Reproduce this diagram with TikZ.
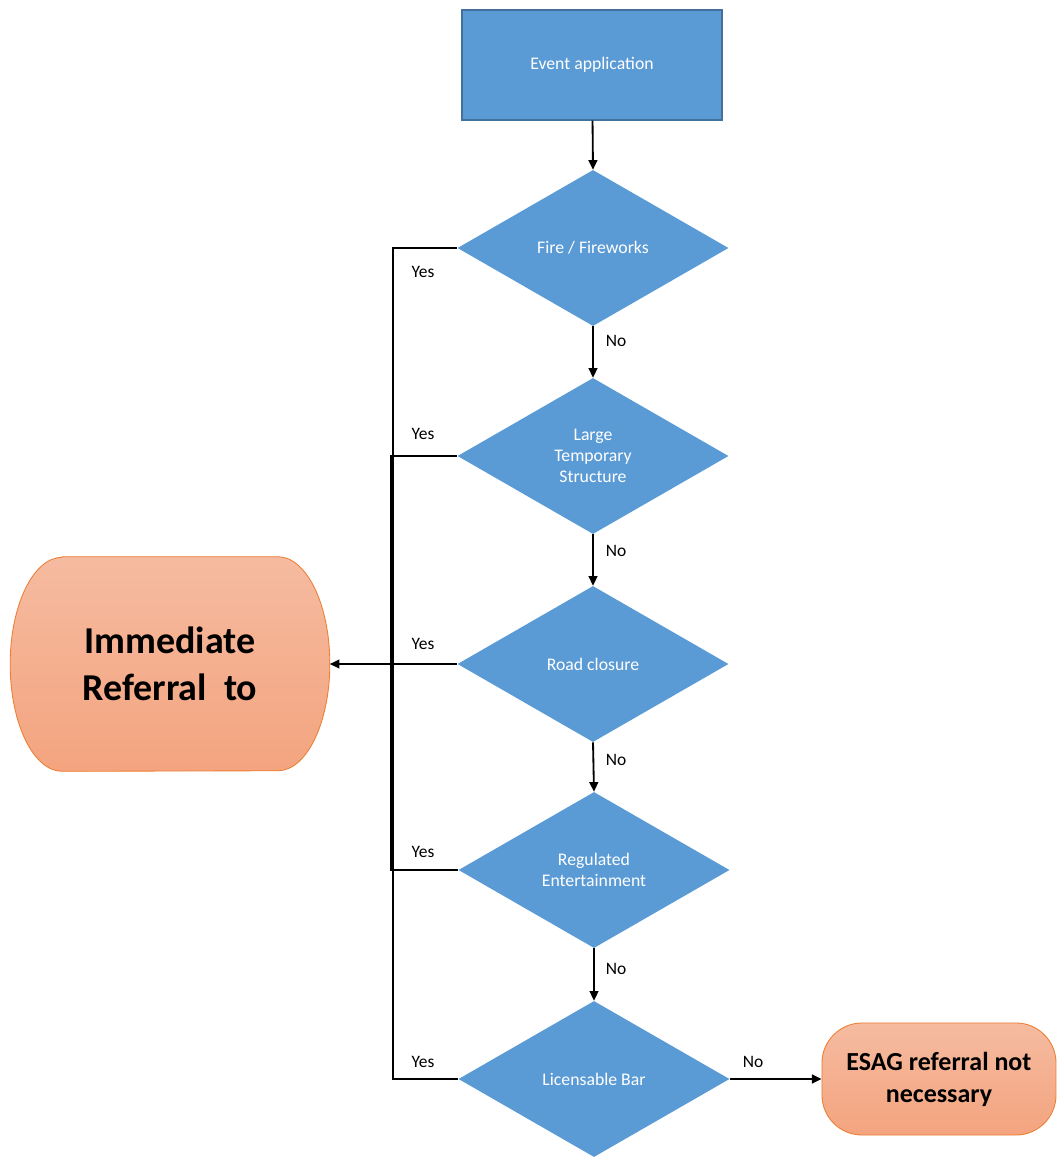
\documentclass[tikz,border=0pt]{standalone}
\usepackage{fontspec}
\setmainfont{Carlito}
\usetikzlibrary{shapes.geometric,arrows.meta}

\definecolor{flowblue}{HTML}{5B9BD5}
\definecolor{flowblueline}{HTML}{41719C}
\definecolor{salmontop}{HTML}{F5BBA0}
\definecolor{salmonbot}{HTML}{F4A47F}
\definecolor{salmonline}{HTML}{ED7D31}

\tikzstyle{startbox} = [draw=flowblueline, fill=flowblue, line width=0.9pt,
    rectangle, minimum width=6.5cm, minimum height=2.75cm, text=white,
    font=\fontsize{12.6}{15}\selectfont]
\tikzstyle{decision} = [fill=flowblue, diamond, inner sep=0pt,
    minimum width=6.775cm, minimum height=3.9cm, text=white, align=center,
    font=\fontsize{12.6}{15}\selectfont]
\tikzstyle{endbox} = [draw=salmonline, top color=salmontop, bottom color=salmonbot,
    line width=0.6pt, rectangle, rounded corners=1cm, minimum width=5.85cm,
    minimum height=2.8cm, align=center, font=\bfseries\fontsize{18.5}{22.7}\selectfont]
\tikzstyle{flowline} = [line width=1.3pt, draw=black]
\tikzstyle{flowarrow} = [flowline, -{Triangle[length=2.4mm,width=2.2mm]}]
\tikzstyle{answer} = [font=\fontsize{12.4}{15}\selectfont, inner sep=0pt]

\begin{document}
\begin{tikzpicture}[x=0.025cm, y=-0.025cm]
    \useasboundingbox (0,0) rectangle (1057,1158);
%------------ Abfrage-Kette ---------------------
    \node [startbox] (event) at (592,65) {Event application};
    \node [decision] (fire) at (593,248) {Fire / Fireworks};
    \node [decision] (structure) at (593,456) {Large\\Temporary\\Structure};
    \node [decision] (road) at (593,664) {Road closure};
    \node [decision] (entertain) at (594,870) {Regulated\\Entertainment};
    \node [decision] (bar) at (594,1079) {Licensable Bar};

    \draw [flowarrow] (event) -- (fire.north);
    \draw [flowarrow] (fire.south) -- (structure.north);
    \draw [flowarrow] (structure.south) -- (road.north);
    \draw [flowarrow] (road.south) -- (entertain.north);
    \draw [flowarrow] (entertain.south) -- (bar.north);

    \node [answer] (no1) at (616,341) {No};
    \node [answer] (no2) at (616,551) {No};
    \node [answer] (no3) at (616,760) {No};
    \node [answer] (no4) at (616,969) {No};

%------------ Sofortige Weiterleitung ---------------------
    \node [minimum width=7.975cm, minimum height=5.35cm] (referral) at (170,664) {};
    \path [draw=salmonline, line width=0.6pt, top color=salmontop, bottom color=salmonbot]
        ([xshift=1.3cm]referral.north west) -- ([xshift=-1.3cm]referral.north east)
        arc [start angle=90, end angle=-90, x radius=1.3cm, y radius=2.675cm]
        -- ([xshift=1.3cm]referral.south west)
        arc [start angle=270, end angle=90, x radius=1.3cm, y radius=2.675cm] -- cycle;
    \node [align=center, font=\bfseries\fontsize{27}{33}\selectfont] (referraltext)
        at (referral.center) {Immediate\\Referral~~to};

    \coordinate (spine) at (393,664);
    \draw [flowline] (fire.west) -- (fire.west -| spine) |- (bar.west);
    \draw [flowline] (structure.west) -- (structure.west -| spine);
    \draw [flowline] (entertain.west) -- ([xshift=-0.05cm]entertain.west -| spine)
        |- (structure.west);
    \draw [flowarrow] (road.west) -- (referral.east);

    \node [answer] (yes1) at (423,272) {Yes};
    \node [answer] (yes2) at (423,434) {Yes};
    \node [answer] (yes3) at (423,644) {Yes};
    \node [answer] (yes4) at (423,852) {Yes};
    \node [answer] (yes5) at (423,1062) {Yes};

%------------ Keine Weiterleitung ---------------------
    \node [endbox] (esag) at (939,1079) {ESAG referral not\\necessary};
    \draw [flowarrow] (bar.east) -- (esag.west);
    \node [answer] (no5) at (753,1062) {No};
\end{tikzpicture}
\end{document}
